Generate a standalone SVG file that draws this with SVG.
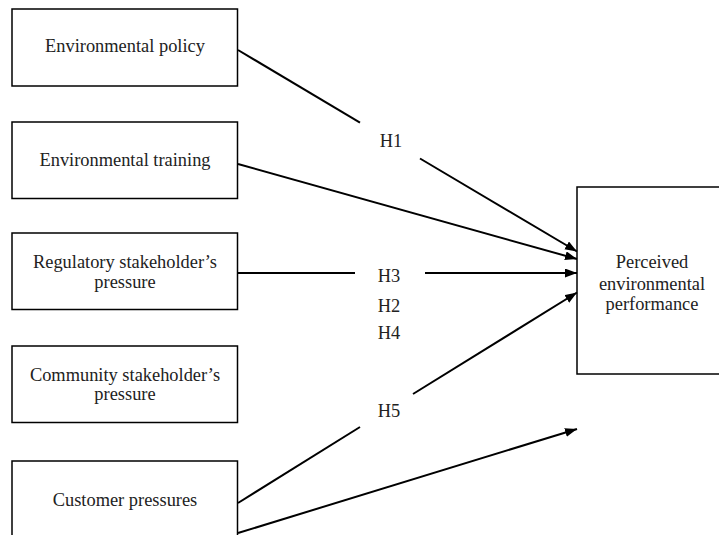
<svg xmlns="http://www.w3.org/2000/svg" width="719" height="535" viewBox="0 0 719 535">
<style>
.box{fill:#fff;stroke:#000;stroke-width:1.5}
.t{font-family:"Liberation Serif","Times New Roman",serif;font-size:18.4px;fill:#222;text-anchor:middle}
.c{stroke:#000;stroke-width:2;fill:none}
</style>
<defs>
<marker id="ah" markerUnits="userSpaceOnUse" markerWidth="14" markerHeight="12" refX="12" refY="4.5" orient="auto">
<path d="M0,0 L12,4.5 L0,9 z" fill="#000"/>
</marker>
</defs>
<rect width="719" height="535" fill="#fff"/>
<g id="n1"><rect class="box" x="12" y="9" width="225.5" height="77"/><text class="t" x="125" y="51.5">Environmental policy</text></g>
<g id="n2"><rect class="box" x="12" y="122" width="225.5" height="76.5"/><text class="t" x="125" y="166">Environmental training</text></g>
<g id="n3"><rect class="box" x="12" y="233" width="225.5" height="76.5"/><text class="t" x="125" y="268">Regulatory stakeholder’s</text><text class="t" x="125" y="288">pressure</text></g>
<g id="n4"><rect class="box" x="12" y="346" width="225.5" height="76.5"/><text class="t" x="125" y="380.5">Community stakeholder’s</text><text class="t" x="125" y="400">pressure</text></g>
<g id="n5"><rect class="box" x="12" y="461" width="225.5" height="90"/><text class="t" x="125" y="506">Customer pressures</text></g>
<g id="n6"><rect class="box" x="577" y="187" width="160" height="187"/><text class="t" x="652" y="268">Perceived</text><text class="t" x="652" y="290">environmental</text><text class="t" x="652" y="310">performance</text></g>
<g id="connectors">
<line class="c" x1="238" y1="50" x2="360" y2="122.7"/>
<line class="c" x1="420" y1="158.5" x2="577" y2="251.5" marker-end="url(#ah)"/>
<line class="c" x1="238" y1="164" x2="577" y2="259" marker-end="url(#ah)"/>
<line class="c" x1="238" y1="273" x2="355" y2="273"/>
<line class="c" x1="425" y1="273" x2="577" y2="273" marker-end="url(#ah)"/>
<line class="c" x1="238" y1="503" x2="360" y2="427"/>
<line class="c" x1="413" y1="394" x2="577" y2="292.5" marker-end="url(#ah)"/>
<line class="c" x1="238" y1="533" x2="577" y2="429" marker-end="url(#ah)"/>
</g>
<g id="labels">
<text class="t" x="391" y="147">H1</text>
<text class="t" x="389" y="282">H3</text>
<text class="t" x="389" y="312">H2</text>
<text class="t" x="389" y="339">H4</text>
<text class="t" x="389" y="417">H5</text>
</g>
</svg>
